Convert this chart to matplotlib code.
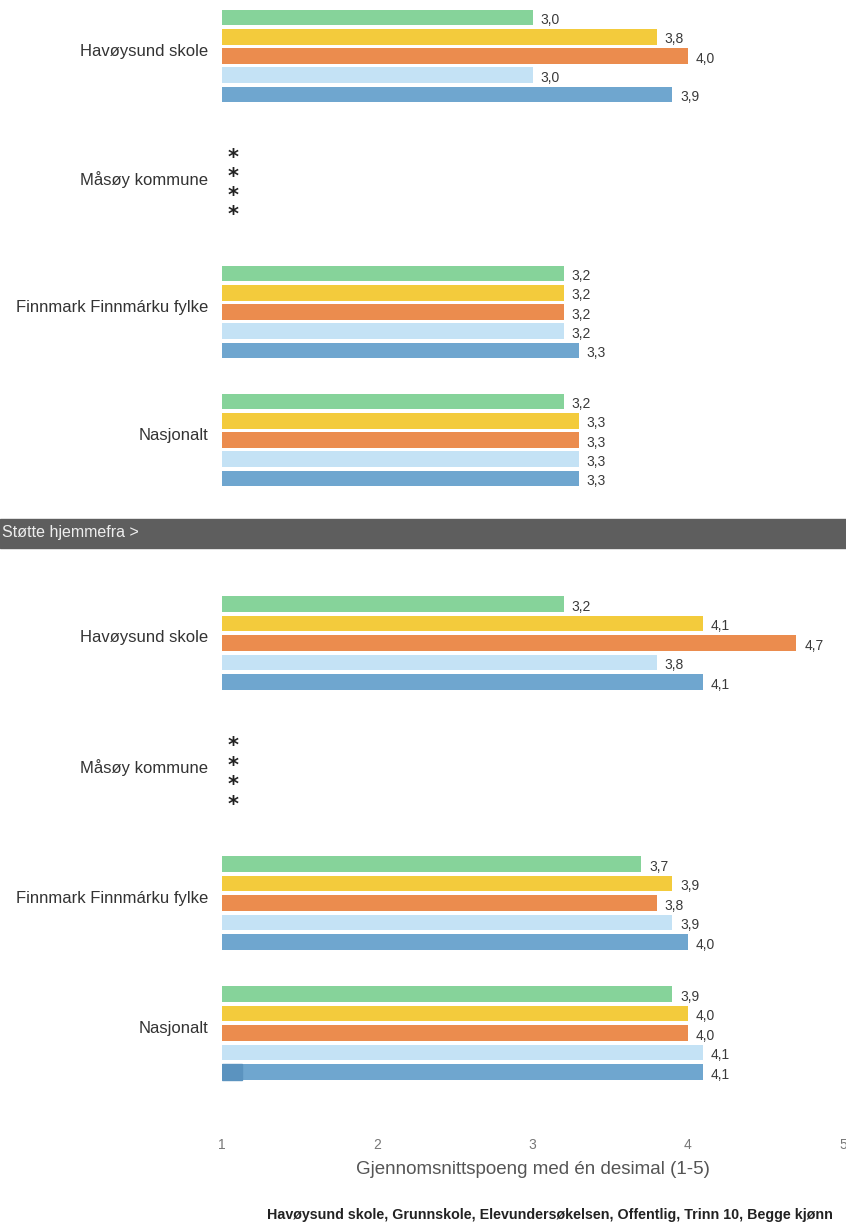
import numpy as np
import matplotlib
matplotlib.use("Agg")
import matplotlib.pyplot as plt
from matplotlib.patches import Rectangle

plt.rcParams['font.family'] = ['Liberation Sans', 'DejaVu Sans']

# Data
groups = ['Havøysund skole', 'Måsøy kommune', 'Finnmark Finnmárku fylke', 'Nasjonalt']
series_colors = ['#86d39a', '#f3cb3c', '#eb8c4e', '#c4e2f5', '#6fa6cf']

# first section (header cut off in the scan); None = no data (*)
top_values = [
    [3.0, 3.8, 4.0, 3.0, 3.9],
    None,
    [3.2, 3.2, 3.2, 3.2, 3.3],
    [3.2, 3.3, 3.3, 3.3, 3.3],
]
# "Støtte hjemmefra"
bottom_values = [
    [3.2, 4.1, 4.7, 3.8, 4.1],
    None,
    [3.7, 3.9, 3.8, 3.9, 4.0],
    [3.9, 4.0, 4.0, 4.1, 4.1],
]
section_title = 'Støtte hjemmefra >'
x_ticks = [1, 2, 3, 4, 5]
x_label = 'Gjennomsnittspoeng med én desimal (1-5)'
footer = 'Havøysund skole, Grunnskole, Elevundersøkelsen, Offentlig, Trinn 10, Begge kjønn'

W, H = 846, 1231
fig = plt.figure(figsize=(W / 100, H / 100), dpi=100)

step = 0.15     # bar pitch inside a group (in group units)
bar_h = 0.122


def make_axes(c0, c3):
    # c0, c3: pixel y of first and last group centre
    p = (c3 - c0) / 3.0
    top = c0 - 0.5 * p
    bottom = c3 + 0.5 * p
    left, right = 222, 843
    ax = fig.add_axes([left / W, 1 - bottom / H, (right - left) / W, (bottom - top) / H])
    ax.set_xlim(1, 5)
    ax.set_ylim(3.5, -0.5)
    for s in ax.spines.values():
        s.set_visible(False)
    ax.set_facecolor('none')
    return ax


def draw_panel(ax, values):
    for gi, vals in enumerate(values):
        if vals is None:
            # no data -> one star per row
            for k in range(4):
                y = gi + (k - 1.5) * step
                ax.text(1.07, y + 0.02, '*', ha='center', va='center', fontsize=15,
                        fontweight='bold', color='#222222', family='DejaVu Sans')
            continue
        for j, v in enumerate(vals):
            y = gi + (j - 2) * step
            ax.barh(y, v - 1, left=1, height=bar_h, color=series_colors[j])
            ax.text(v + 0.05, y + 0.02, f'{v:.1f}'.replace('.', ','), ha='left',
                    va='center', fontsize=10, color='#3a3a3a')
    ax.set_yticks([g - 0.05 for g in range(len(groups))])
    ax.set_yticklabels(groups, fontsize=12, color='#333333')
    ax.tick_params(axis='y', length=0, pad=10)


ax1 = make_axes(56, 440)
draw_panel(ax1, top_values)
ax1.set_xticks([])

ax2 = make_axes(643, 1033)
draw_panel(ax2, bottom_values)
ax2.set_xticks(x_ticks)
ax2.set_xticklabels([str(t) for t in x_ticks], fontsize=10, color='#777777')
ax2.tick_params(axis='x', length=0, pad=29)
ax2.set_xlabel(x_label, fontsize=13.5, color='#555555', labelpad=6)

# small darker marker at the start of the last bar (as in the scan)
ax2.add_patch(Rectangle((1, 3 + 2 * step - bar_h / 2), 0.13, bar_h,
                        color='#5b93bf', zorder=3))

# section header band
fig.add_artist(Rectangle((0, 1 - 548 / H), 1, 29 / H, transform=fig.transFigure,
                         color='#5e5e5e', zorder=5))
fig.text(2 / W, 1 - 533 / H, section_title, ha='left', va='center', fontsize=11.5,
         color='#eeeeee', zorder=6)

fig.text(833 / W, 1 - 1215 / H, footer, ha='right', va='center', fontsize=10.3,
         fontweight='bold', color='#222222')

fig.savefig('out.png', dpi=100)
